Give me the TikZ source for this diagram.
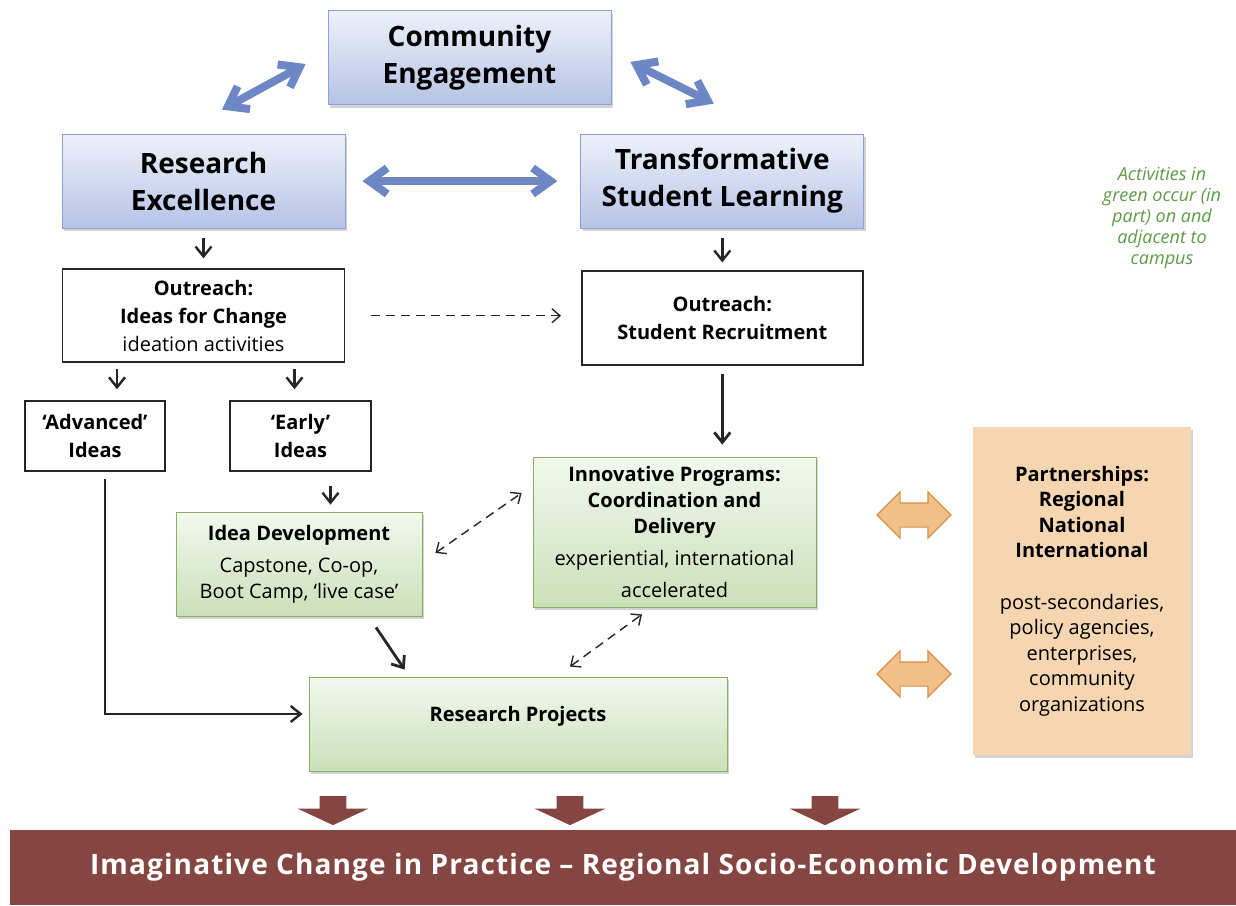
\documentclass[tikz,border=0pt]{standalone}
\usepackage{fontspec}
\setmainfont{Open Sans}
\newfontfamily\barfont[LetterSpace=4]{Open Sans}
\usepackage{tikz}
\usetikzlibrary{arrows.meta,positioning,shapes.arrows,shadows,calc}

\definecolor{blueedge}{HTML}{8CA1D5}
\definecolor{bluetop}{HTML}{EEF1FA}
\definecolor{bluebot}{HTML}{B6C3E6}
\definecolor{bluearrow}{HTML}{6D87C4}
\definecolor{greenedge}{HTML}{86B25F}
\definecolor{greentop}{HTML}{F2F8EE}
\definecolor{greenbot}{HTML}{CBE0B9}
\definecolor{partfill}{HTML}{F6D5B1}
\definecolor{orangefill}{HTML}{F2BF88}
\definecolor{orangeedge}{HTML}{D98F48}
\definecolor{maroon}{HTML}{854641}
\definecolor{notegreen}{HTML}{5E9B45}

\tikzset{
  boxshadow/.style={drop shadow={shadow xshift=1pt,shadow yshift=-1.5pt,opacity=0.35}},
  mainbox/.style={
    rectangle,
    draw=blueedge,
    top color=bluetop,
    bottom color=bluebot,
    boxshadow,
    align=center,
    font=\fontsize{14}{18.5}\selectfont\bfseries,
    minimum width=141.5pt,
    minimum height=47pt
  },
  outbox/.style args={#1,#2}{
    rectangle,
    draw=black!85,
    line width=0.8pt,
    fill=white,
    align=center,
    font=\fontsize{10}{14}\selectfont,
    minimum width=#1 pt,
    minimum height=#2 pt
  },
  greenbox/.style args={#1,#2}{
    rectangle,
    draw=greenedge,
    top color=greentop,
    bottom color=greenbot,
    boxshadow,
    align=center,
    font=\fontsize{10}{13}\selectfont,
    minimum width=#1 pt,
    minimum height=#2 pt
  },
  partbox/.style={
    rectangle,
    fill=partfill,
    boxshadow,
    align=center,
    font=\fontsize{10}{12.75}\selectfont,
    minimum width=109pt,
    minimum height=164pt
  },
  linkarrow/.style={
    double arrow,
    draw=orangeedge,
    fill=orangefill,
    line width=0.6pt,
    inner xsep=1pt,
    inner ysep=5.75pt,
    double arrow head extend=5.5pt,
    minimum height=37pt
  },
  downarrow/.style={
    single arrow,
    rotate=-90,
    fill=maroon,
    inner xsep=1pt,
    inner ysep=6.5pt,
    single arrow head extend=11pt,
    single arrow tip angle=130,
    minimum height=14.5pt
  },
  bluedbl/.style={
    {Straight Barb[length=9pt,width=13pt]}-{Straight Barb[length=9pt,width=13pt]},
    draw=bluearrow,
    line width=4pt,
    line cap=round
  },
  blk/.style={
    -{Straight Barb[length=5pt,width=8pt]},
    draw=black!85,
    line width=1.2pt
  },
  dashed line/.style={
    draw=black!85,
    line width=0.7pt,
    dash pattern=on 4.5pt off 3pt
  },
  dashone/.style={dashed line,-{Straight Barb[length=4pt,width=7pt]}},
  dashdbl/.style={dashed line,{Straight Barb[length=4pt,width=7pt]}-{Straight Barb[length=4pt,width=7pt]}}
}

\begin{document}
\begin{tikzpicture}[x=0.5pt,y=-0.5pt]
  \useasboundingbox (0,0) rectangle (1236,905);

  % top triangle
  \node [mainbox] (comm) at (469.5,57.5) {Community\\Engagement};
  \node [mainbox] (research) at (203.5,181) {Research\\Excellence};
  \node [mainbox,right=117.5pt of research] (transf) {Transformative\\Student Learning};

  % outreach
  \node [outbox={141,46.5},below=20pt of research] (ideas)
        {\textbf{Outreach:}\\\textbf{Ideas for Change}\\ideation activities};
  \node [outbox={140.5,47},below=21pt of transf] (recruit)
        {\textbf{Outreach:}\\\textbf{Student Recruitment}};
  \node [outbox={70,35}] (adv) at (95,436) {\textbf{‘Advanced’}\\\textbf{Ideas}};
  \node [outbox={70.5,35}] (early) at (300.5,436) {\textbf{‘Early’}\\\textbf{Ideas}};

  % green activities
  \node [greenbox={123,52}] (ideadev) at (299,564)
        {\textbf{Idea Development}\\[3pt]Capstone, Co-op,\\Boot Camp, ‘live case’};
  \node [greenbox={141.5,75}] (innov) at (674.5,532)
        {\textbf{Innovative Programs:}\\\textbf{Coordination and}\\\textbf{Delivery}\\[3pt]experiential, international\\[3pt]accelerated};
  \node [greenbox={209,47}] (projects) at (518,724) {\textbf{Research Projects}\\[-3pt]};

  % partners
  \node [partbox] (partner) at (1082,591)
        {\textbf{Partnerships:}\\\textbf{Regional}\\\textbf{National}\\\textbf{International}\\[13pt]
         post-secondaries,\\policy agencies,\\enterprises,\\community\\organizations};
  \node [linkarrow] (link1) at (914,515) {};
  \node [linkarrow] (link2) at (914,674) {};

  \node [align=center,text=notegreen,font=\fontsize{9}{10.5}\selectfont\itshape] (note) at (1162,218)
        {Activities in\\green occur (in\\part) on and\\adjacent to\\campus};

  % outcome bar
  \node [fill=maroon,text=white,minimum width=613pt,minimum height=37.5pt,
         font=\barfont\fontsize{14}{16}\selectfont\bfseries] (bar) at (623,867.5)
        {Imaginative Change in Practice – Regional Socio-Economic Development};
  \node [downarrow] (out1) at (333,807.5) {};
  \node [downarrow] (out2) at (570,807.5) {};
  \node [downarrow] (out3) at (825,807.5) {};

  % connectors
  \draw[bluedbl] ($(research.north)+(18.5,-24)$) -- ($(comm.west)+(-22,6.5)$);
  \draw[bluedbl] ($(comm.east)+(19,4.5)$) -- ($(transf.north)+(-8.5,-30)$);
  \draw[bluedbl,shorten <=8.5pt,shorten >=11.5pt] (research) -- (transf);

  \draw[blk,shorten <=5pt,shorten >=5pt] (research) -- (ideas);
  \draw[blk,shorten <=5pt,shorten >=4pt] (transf) -- (recruit);
  \draw[blk,shorten <=3pt,shorten >=5.5pt] ([xshift=11pt]adv.north |- ideas.south) -- ([xshift=11pt]adv.north);
  \draw[blk,shorten <=3pt,shorten >=5.5pt] ([xshift=-3pt]early.north |- ideas.south) -- ([xshift=-3pt]early.north);
  \draw[blk,shorten <=7pt,shorten >=3.5pt] ([xshift=15pt]early.south) -- ([xshift=15pt]early.south |- ideadev.north);
  \draw[blk,line width=1.4pt,shorten <=4pt,shorten >=6pt] (recruit.south) -- (recruit.south |- innov.north);
  \draw[blk,shorten <=3.5pt,shorten >=3pt] ([xshift=5pt]adv.south) |- ([yshift=5pt]projects.west);
  \draw[blk,line width=1.4pt] ($(ideadev.south)+(77,11)$) -- ($(projects.north west)+(96,-7)$);

  \draw[dashone,shorten <=13pt,shorten >=10pt] (ideas.east) -- (ideas.east -| recruit.west);
  \draw[dashdbl] ($(ideadev.east)+(13,-11)$) -- ($(innov.west)+(-11,-39)$);
  \draw[dashdbl] ($(projects.north)+(52,-10)$) -- ($(innov.south)+(-32.5,7)$);
\end{tikzpicture}
\end{document}
